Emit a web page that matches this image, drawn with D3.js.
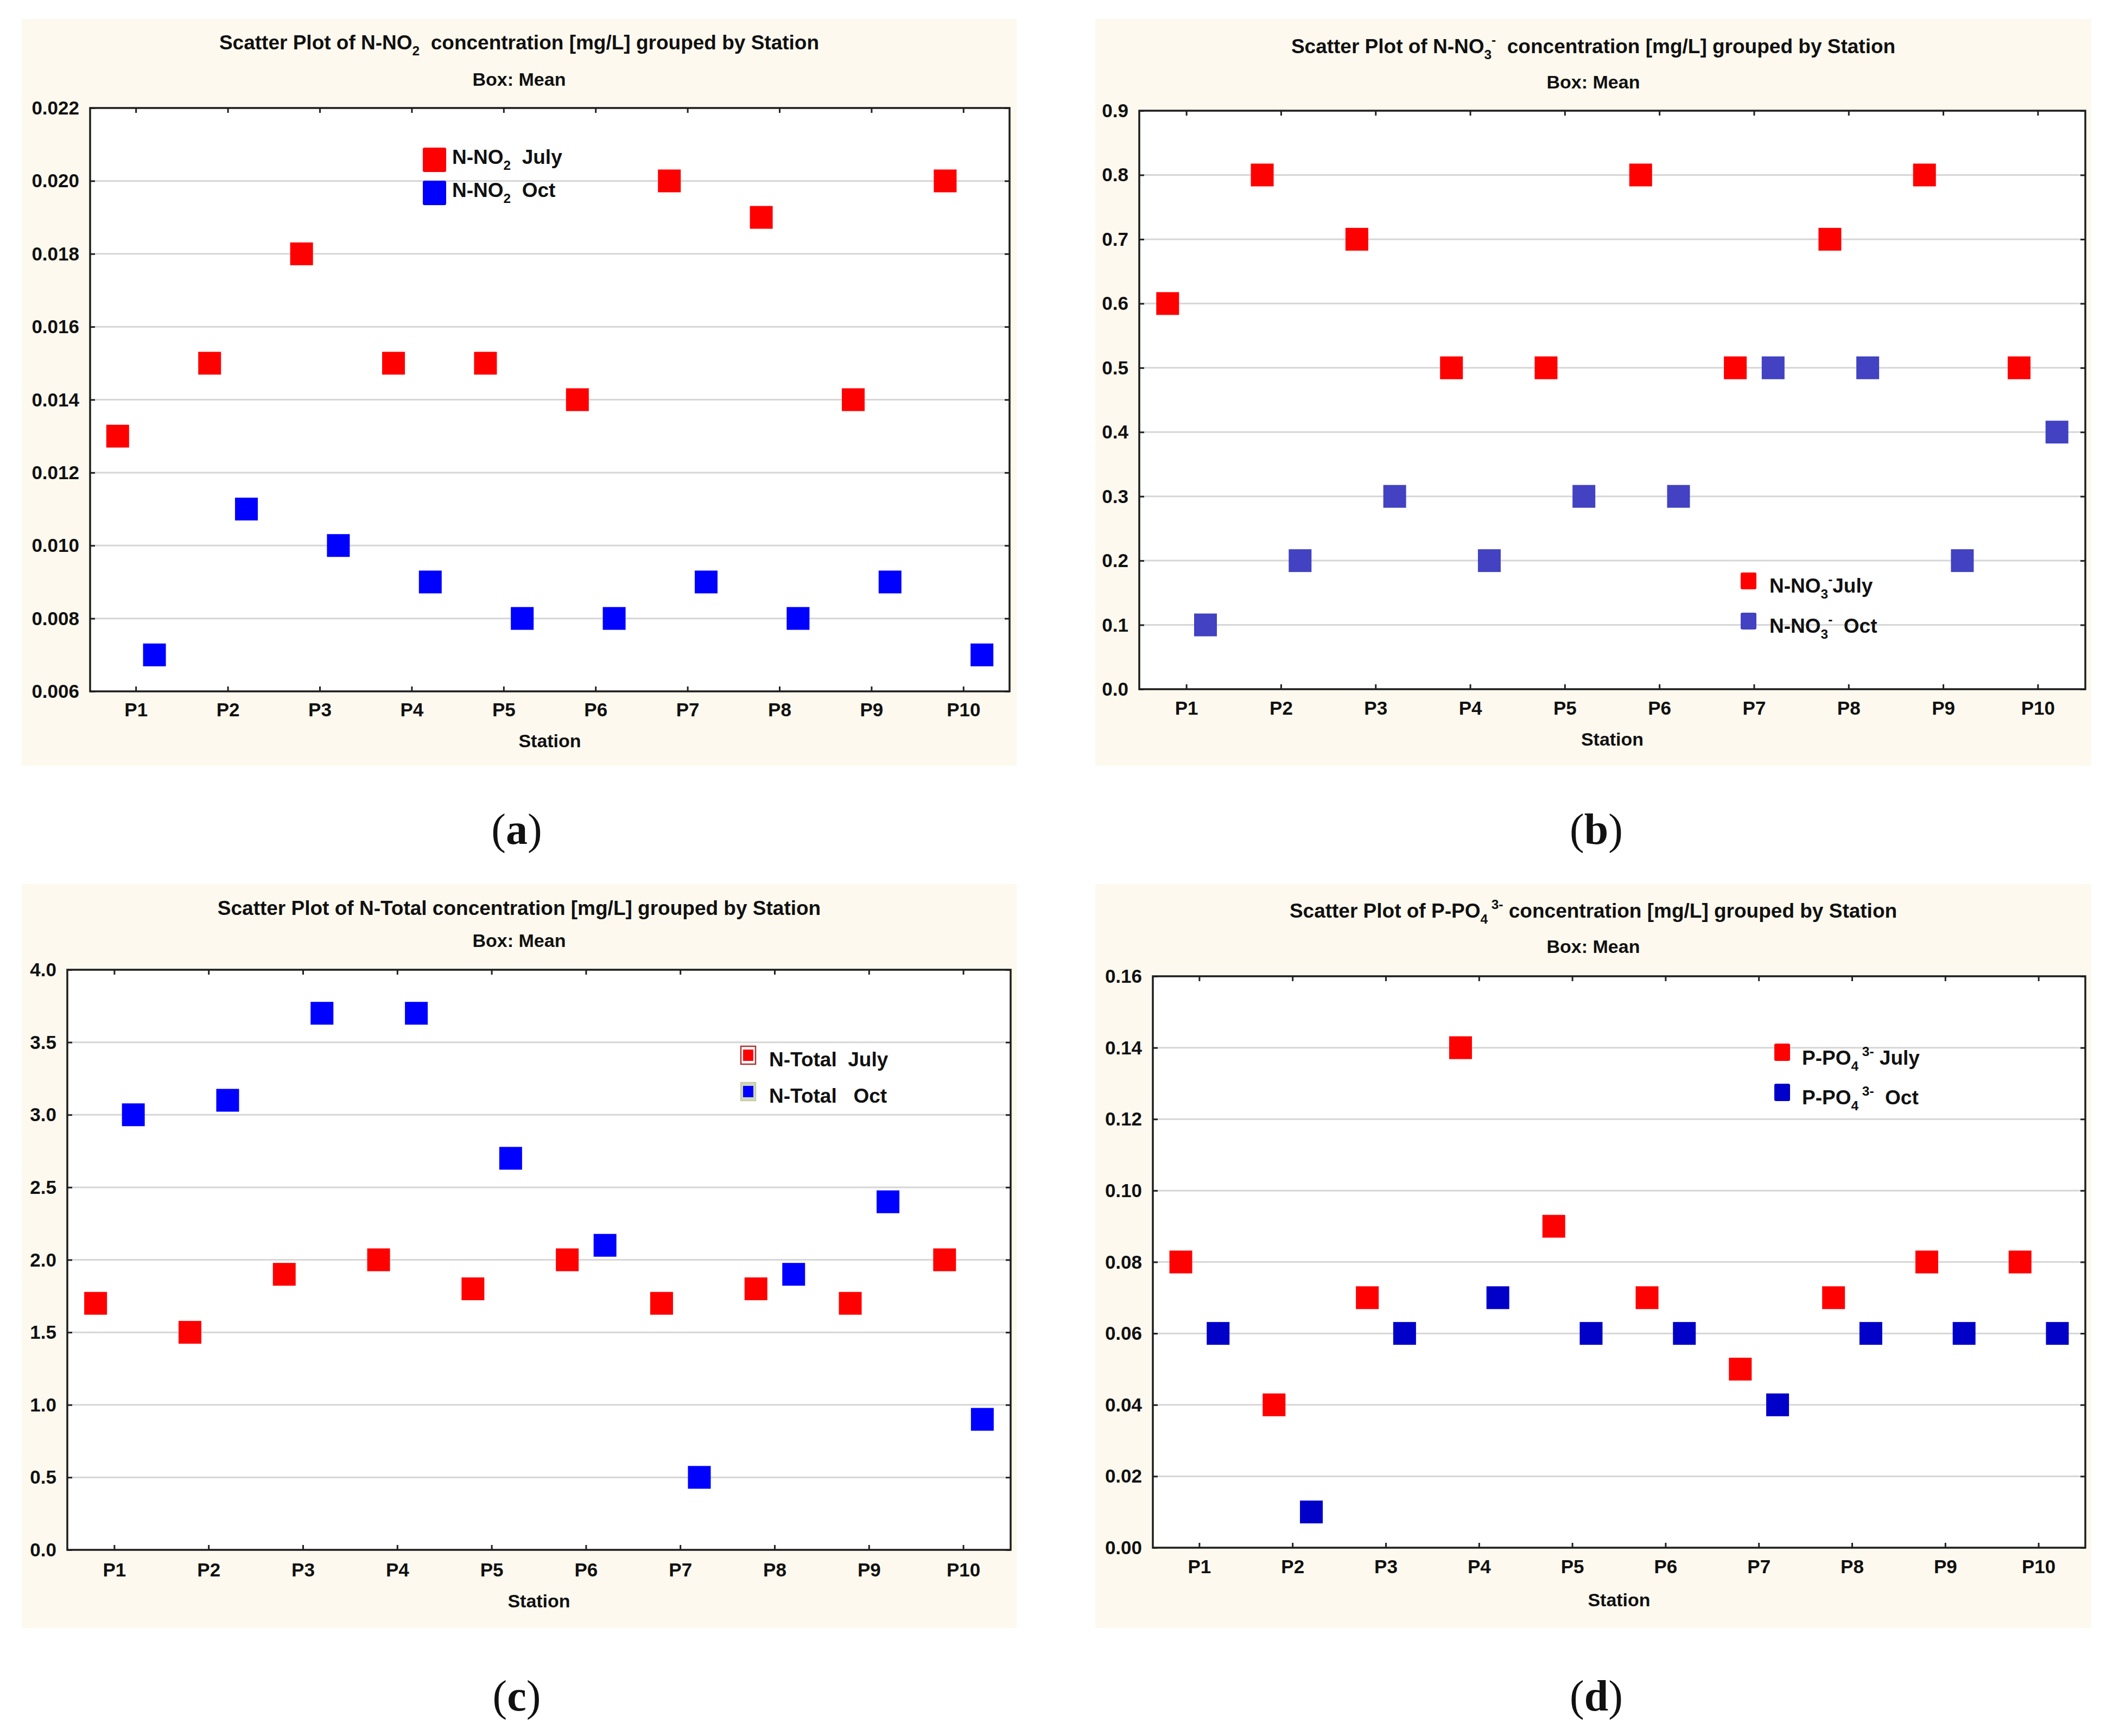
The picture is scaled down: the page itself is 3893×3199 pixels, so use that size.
<!DOCTYPE html>
<html><head><meta charset="utf-8">
<script src="https://cdn.jsdelivr.net/npm/d3@7/dist/d3.min.js"></script>
<style>
body{margin:0;background:#fff}
svg text{font-family:"Liberation Sans",Arial,Helvetica,sans-serif;font-weight:bold;white-space:pre;fill:#111}
</style></head>
<body><svg id="chart" width="3893" height="3199"></svg>
<script>
// ---------- data ----------
const stations = ["P1","P2","P3","P4","P5","P6","P7","P8","P9","P10"];

const no2July = [0.013,0.015,0.018,0.015,0.015,0.014,0.020,0.019,0.014,0.020];
const no2Oct  = [0.007,0.011,0.010,0.009,0.008,0.008,0.009,0.008,0.009,0.007];
const no2Ticks = [0.006,0.008,0.010,0.012,0.014,0.016,0.018,0.020,0.022];

const no3July = [0.6,0.8,0.7,0.5,0.5,0.8,0.5,0.7,0.8,0.5];
const no3Oct  = [0.1,0.2,0.3,0.2,0.3,0.3,0.5,0.5,0.2,0.4];
const no3Ticks = [0.0,0.1,0.2,0.3,0.4,0.5,0.6,0.7,0.8,0.9];

const ntotJuly = [1.7,1.5,1.9,2.0,1.8,2.0,1.7,1.8,1.7,2.0];
const ntotOct  = [3.0,3.1,3.7,3.7,2.7,2.1,0.5,1.9,2.4,0.9];
const ntotTicks = [0.0,0.5,1.0,1.5,2.0,2.5,3.0,3.5,4.0];

const po4July = [0.08,0.04,0.07,0.14,0.09,0.07,0.05,0.07,0.08,0.08];
const po4Oct  = [0.06,0.01,0.06,0.07,0.06,0.06,0.04,0.06,0.06,0.06];
const po4Ticks = [0.00,0.02,0.04,0.06,0.08,0.10,0.12,0.14,0.16];

// ---------- layout / style ----------
const panels = [
  { box:[40,35,1873,1411], plot:[166,199,1860,1274], titleY:91, subY:158, xlabY:1320, stY:1377,
    ticks:no2Ticks, fmt:".3f", july:no2July, oct:no2Oct, octColor:"#0000ff",
    title:[["Scatter Plot of N-NO","n"],["2","sub"],["  concentration [mg/L] grouped by Station","n"]],
    legend:{x:779,w:43,h:45,ys:[272,333],tx:833,bys:[302,363],style:"plain",fs:37,
      labels:[[["N-NO","n"],["2","sub"],["  July","n"]],[["N-NO","n"],["2","sub"],["  Oct","n"]]]},
    caption:{x:952,y:1555,l:"a"} },
  { box:[2018,35,3853,1411], plot:[2099,204,3842,1270], titleY:98, subY:163, xlabY:1317, stY:1374,
    ticks:no3Ticks, fmt:".1f", july:no3July, oct:no3Oct, octColor:"#4242c2",
    title:[["Scatter Plot of N-NO","n"],["3","sub"],["-","sup"],["  concentration [mg/L] grouped by Station","n"]],
    legend:{x:3207,w:29,h:31,ys:[1055,1129],tx:3260,bys:[1092,1166],style:"plain",fs:37,
      labels:[[["N-NO","n"],["3","sub"],["-","sup"],["July","n"]],[["N-NO","n"],["3","sub"],["-","sup"],["  Oct","n"]]]},
    caption:{x:2941,y:1555,l:"b"} },
  { box:[40,1629,1873,3000], plot:[124,1787,1862,2856], titleY:1686, subY:1745, xlabY:2905, stY:2962,
    ticks:ntotTicks, fmt:".1f", july:ntotJuly, oct:ntotOct, octColor:"#0000ff",
    title:[["Scatter Plot of N-Total concentration [mg/L] grouped by Station","n"]],
    legend:{x:1365,w:27,h:33,ys:[1928,1995],tx:1417,bys:[1965,2032],style:"boxed",fs:37,
      labels:[[["N-Total  July","n"]],[["N-Total   Oct","n"]]]},
    caption:{x:952,y:3152,l:"c"} },
  { box:[2018,1629,3853,3000], plot:[2124,1799,3842,2852], titleY:1691, subY:1756, xlabY:2899, stY:2960,
    ticks:po4Ticks, fmt:".2f", july:po4July, oct:po4Oct, octColor:"#0000c8",
    title:[["Scatter Plot of P-PO","n"],["4","sub"],[" 3-","sup"],[" concentration [mg/L] grouped by Station","n"]],
    legend:{x:3269,w:29,h:32,ys:[1923,1997],tx:3320,bys:[1962,2035],style:"plain",fs:37,
      labels:[[["P-PO","n"],["4","sub"],[" 3-","sup"],[" July","n"]],[["P-PO","n"],["4","sub"],[" 3-","sup"],["  Oct","n"]]]},
    caption:{x:2941,y:3152,l:"d"} }
];

const svg = d3.select("#chart");
const julyColor = "#ff0000";
const markerSize = 42;
const titleFs = 37;

function rich(textSel, parts, fs){
  let shift = 0;
  parts.forEach(([t,k])=>{
    const target = k==="sub" ? 0.3*fs : (k==="sup" ? -0.42*fs : 0);
    const ts = textSel.append("tspan").attr("dy", target - shift).text(t);
    if(k!=="n") ts.attr("font-size", 0.66*fs);
    shift = target;
  });
}

panels.forEach(p=>{
  const g = svg.append("g");
  const [bx0,by0,bx1,by1] = p.box;
  const [l,t,r,b] = p.plot;
  g.append("rect").attr("x",bx0).attr("y",by0).attr("width",bx1-bx0).attr("height",by1-by0).attr("fill","#fdf9ee");
  g.append("rect").attr("x",l).attr("y",t).attr("width",r-l).attr("height",b-t).attr("fill","#fff");

  const x = d3.scaleBand().domain(stations).range([l,r]).padding(0);
  const y = d3.scaleLinear().domain([p.ticks[0], p.ticks[p.ticks.length-1]]).range([b,t]);
  const off = x.bandwidth()*0.2;
  const xc = s => x(s) + x.bandwidth()/2;

  // gridlines
  g.selectAll(".grid").data(p.ticks).join("line")
    .attr("x1",l).attr("x2",r).attr("y1",d=>y(d)).attr("y2",d=>y(d))
    .attr("stroke","#d6d6d6").attr("stroke-width",3);

  // markers
  g.selectAll(".mj").data(stations).join("rect")
    .attr("x",(s)=>xc(s)-off-markerSize/2).attr("y",(s,i)=>y(p.july[i])-markerSize/2)
    .attr("width",markerSize).attr("height",markerSize).attr("fill",julyColor);
  g.selectAll(".mo").data(stations).join("rect")
    .attr("x",(s)=>xc(s)+off-markerSize/2).attr("y",(s,i)=>y(p.oct[i])-markerSize/2)
    .attr("width",markerSize).attr("height",markerSize).attr("fill",p.octColor);

  // axes (inward ticks) using d3 axes
  const fmt = d3.format(p.fmt);
  const axL = g.append("g").attr("transform",`translate(${l},0)`)
    .call(d3.axisLeft(y).tickValues(p.ticks).tickSize(-9).tickFormat(""));
  const axR = g.append("g").attr("transform",`translate(${r},0)`)
    .call(d3.axisRight(y).tickValues(p.ticks).tickSize(-9).tickFormat(""));
  const axT = g.append("g").attr("transform",`translate(0,${t})`)
    .call(d3.axisTop(x).tickSize(-9).tickFormat(""));
  const axB = g.append("g").attr("transform",`translate(0,${b})`)
    .call(d3.axisBottom(x).tickSize(-9).tickFormat(""));
  [axL,axR,axT,axB].forEach(a=>{
    a.select(".domain").remove();
    a.selectAll(".tick line").attr("stroke","#222").attr("stroke-width",3);
  });

  // border
  g.append("rect").attr("x",l).attr("y",t).attr("width",r-l).attr("height",b-t)
    .attr("fill","none").attr("stroke","#1e1e1e").attr("stroke-width",3.5);

  // y tick labels
  g.selectAll(".yl").data(p.ticks).join("text")
    .attr("x",l-20).attr("y",d=>y(d)+12).attr("text-anchor","end").attr("font-size",35).text(d=>fmt(d));
  // x tick labels
  g.selectAll(".xl").data(stations).join("text")
    .attr("x",d=>xc(d)).attr("y",p.xlabY).attr("text-anchor","middle").attr("font-size",35).text(d=>d);
  // axis title
  g.append("text").attr("x",(l+r)/2).attr("y",p.stY).attr("text-anchor","middle").attr("font-size",34).text("Station");

  // titles
  const tt = g.append("text").attr("x",(bx0+bx1)/2).attr("y",p.titleY).attr("text-anchor","middle").attr("font-size",titleFs);
  rich(tt, p.title, titleFs);
  g.append("text").attr("x",(bx0+bx1)/2).attr("y",p.subY).attr("text-anchor","middle").attr("font-size",34).text("Box: Mean");

  // legend
  const L = p.legend;
  [julyColor, p.octColor].forEach((c,i)=>{
    if(L.style==="boxed"){
      g.append("rect").attr("x",L.x).attr("y",L.ys[i]).attr("width",L.w).attr("height",L.h)
        .attr("fill", i===0 ? "#ffffff" : "#d2d9bd")
        .attr("stroke", i===0 ? "#a33" : "#c4cca8").attr("stroke-width",2.5);
      g.append("rect").attr("x",L.x+4).attr("y",L.ys[i]+6).attr("width",L.w-8).attr("height",L.h-12).attr("fill",c);
    } else {
      g.append("rect").attr("x",L.x).attr("y",L.ys[i]).attr("width",L.w).attr("height",L.h)
        .attr("rx",3).attr("fill",c);
    }
    const lt = g.append("text").attr("x",L.tx).attr("y",L.bys[i]).attr("font-size",L.fs);
    rich(lt, L.labels[i], L.fs);
  });

  // caption
  const cap = svg.append("text").attr("x",p.caption.x).attr("y",p.caption.y).attr("text-anchor","middle")
    .attr("font-size",80).style("font-family","'Liberation Serif','Times New Roman',serif").style("font-weight","normal");
  cap.append("tspan").text("(");
  cap.append("tspan").style("font-weight","bold").text(p.caption.l);
  cap.append("tspan").text(")");
});
</script>
</body></html>
